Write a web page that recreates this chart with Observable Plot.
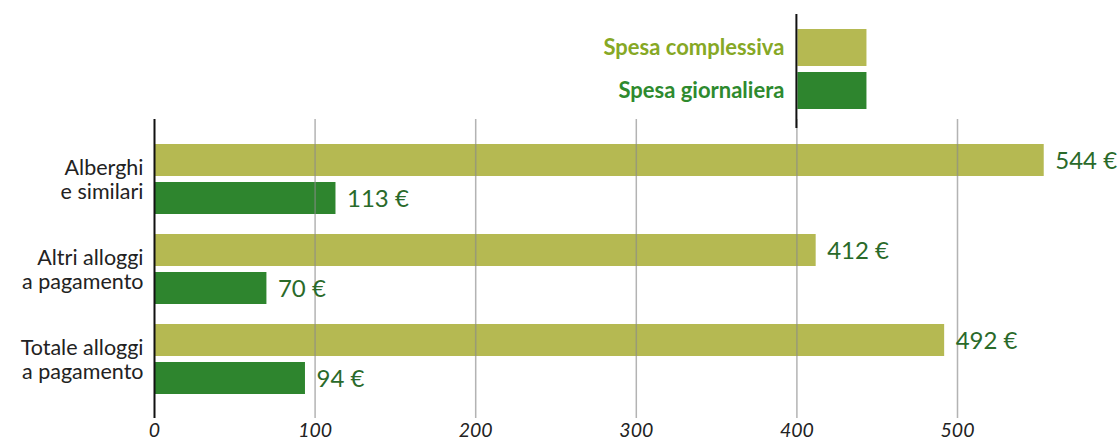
<!DOCTYPE html>
<html><head><meta charset="utf-8">
<script src="https://cdn.jsdelivr.net/npm/d3@7"></script>
<script src="https://cdn.jsdelivr.net/npm/@observablehq/plot@0.6"></script>
<style>
body{margin:0;background:#fff;}
#wrap{position:relative;width:1119px;height:442px;overflow:hidden;}
#wrap svg.overlay{position:absolute;left:0;top:0;pointer-events:none;}
</style></head><body><div id="wrap"></div>
<script>
const categories = ["Alberghi\ne similari", "Altri alloggi\na pagamento", "Totale alloggi\na pagamento"];
const series = ["Spesa complessiva", "Spesa giornaliera"];
const complessiva = [554, 412, 492];          // bar lengths as drawn in the picture
const complessivaLabels = ["544 €", "412 €", "492 €"]; // printed labels
const giornaliera = [113, 70, 94];
const giornalieraLabels = ["113 €", "70 €", "94 €"];
const xTicks = [0, 100, 200, 300, 400, 500];
const legendAnchor = 400;
const legendWidthUnits = 43;

const colC = "#b5b952", colG = "#2e852e", colLabel = "#2a6a2a";

const dataC = categories.map((c, i) => ({cat: c, series: series[0], value: complessiva[i], label: complessivaLabels[i]}));
const dataG = categories.map((c, i) => ({cat: c, series: series[1], value: giornaliera[i], label: giornalieraLabels[i]}));

const plot = Plot.plot({
  width: 1119, height: 442,
  marginLeft: 154, marginRight: 1.4, marginTop: 119, marginBottom: 24,
  style: {fontFamily: "Lato, 'Open Sans', sans-serif", background: "#fff"},
  x: {domain: [0, 600], axis: null},
  y: {domain: categories, paddingInner: 0.2265, paddingOuter: 0.265, axis: null},
  marks: [
    Plot.barX(dataC, {x: "value", y: "cat", fill: colC, insetBottom: 38}),
    Plot.barX(dataG, {x: "value", y: "cat", fill: colG, insetTop: 38}),
    Plot.ruleX(xTicks.slice(1), {stroke: "#8a8a8a", strokeWidth: 1.5, strokeOpacity: 0.65}),
    Plot.ruleX([0], {stroke: "#111", strokeWidth: 2}),
    Plot.text(dataC, {x: "value", y: "cat", text: "label", dx: 11, dy: -18, textAnchor: "start", fill: colLabel, fontSize: 24}),
    Plot.text(dataG, {x: "value", y: "cat", text: "label", dx: 11, dy: 20, textAnchor: "start", fill: colLabel, fontSize: 24}),
    Plot.text(categories, {x: 0, y: d => d, text: d => d, dx: -11, textAnchor: "end", fontSize: 21.5, lineHeight: 1.13, fill: "#222"}),
    Plot.axisX(xTicks, {anchor: "bottom", tickSize: 0, tickPadding: 5, fontSize: 19.5, fontStyle: "italic", fill: "#222", label: null})
  ]
});

const wrap = document.getElementById("wrap");
wrap.appendChild(plot);

// legend overlay, positioned with the plot's x scale
const xs = plot.scale("x");
const lx = xs.apply(legendAnchor);
const lw = xs.apply(legendAnchor + legendWidthUnits) - lx;
const svg = d3.select(wrap).append("svg").attr("class", "overlay")
  .attr("width", 1119).attr("height", 140)
  .style("font-family", "Lato, 'Open Sans', sans-serif");
const items = [
  {name: series[0], fill: colC, text: "#86a825", y: 29},
  {name: series[1], fill: colG, text: "#2e8a2e", y: 72}
];
svg.selectAll("rect").data(items).join("rect")
  .attr("x", lx + 1).attr("y", d => d.y).attr("width", lw).attr("height", 37).attr("fill", d => d.fill);
svg.selectAll("text").data(items).join("text")
  .attr("x", lx - 12).attr("y", d => d.y + 18.5).attr("dy", "0.35em")
  .attr("text-anchor", "end").attr("font-size", 22).attr("font-weight", "bold")
  .attr("fill", d => d.text).text(d => d.name);
svg.append("line").attr("x1", lx).attr("x2", lx).attr("y1", 14).attr("y2", 128)
  .attr("stroke", "#111").attr("stroke-width", 2);
</script></body></html>
